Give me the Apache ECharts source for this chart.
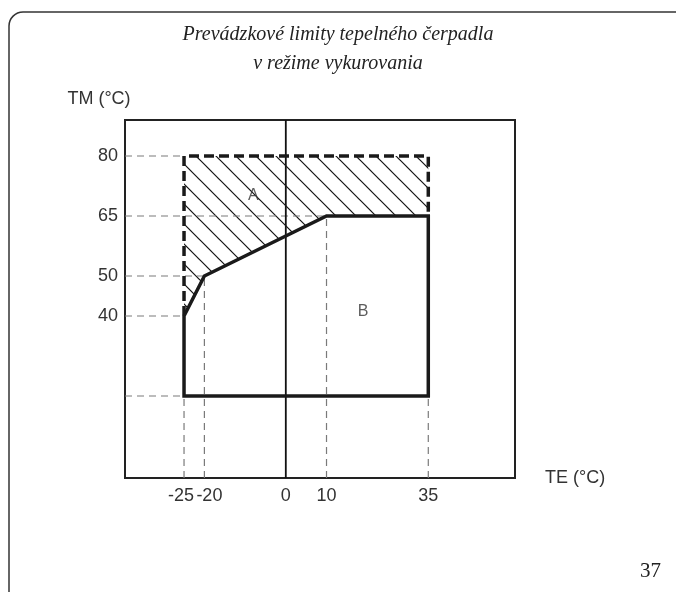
<!DOCTYPE html>
<html>
<head>
<meta charset="utf-8">
<script src="https://cdn.jsdelivr.net/npm/echarts@6/dist/echarts.min.js"></script>
<style>
  html, body { margin: 0; padding: 0; background: #fff; }
  #chart { width: 676px; height: 592px; }
</style>
</head>
<body>
<div id="chart"></div>
<script>
// Tick values on each axis (TE ticks split so close neighbours are both kept)
const teTicks = [-25, 0, 35];
const teTicksInner = [-20, 10];
const tmTicks = [40, 50, 65, 80];

// Operating limit B (solid outline), as TE / TM pairs
const limitTE = [-25, -20, 10, 35, 35, -25, -25];
const limitTM = [40, 50, 65, 65, 20, 20, 40];

// Extended area A (dashed outline on top of limit B)
const extTE = [-25, -25, 35, 35];
const extTM = [40, 80, 80, 65];

// Horizontal guide lines: level and where they end on the outline
const hGuideTM = [80, 65, 50, 40, 20];
const hGuideTE = [-25, 10, -20, -25, -25];

// Vertical guide lines: position and where they end on the outline
const vGuideTE = [-25, -20, 10, 35];
const vGuideTM = [20, 50, 65, 20];

// Zone labels
const zoneNames = ['A', 'B'];
const zoneTE = [-8, 19];
const zoneTM = [70, 41];

const TE_MIN = -39.5, TE_MAX = 56.3;
const TM_MIN = -0.5, TM_MAX = 89;

const zip = (a, b) => a.map((v, i) => [v, b[i]]);

// Diagonal hatch pattern
function hatchPattern() {
  const s = 20;
  const c = document.createElement('canvas');
  c.width = s; c.height = s;
  const g = c.getContext('2d');
  g.strokeStyle = '#111';
  g.lineWidth = 1.2;
  [-s, 0, s].forEach(function (dx) {
    g.beginPath();
    g.moveTo(dx - 2, -2);
    g.lineTo(dx + s + 2, s + 2);
    g.stroke();
  });
  return c;
}
const pattern = { image: hatchPattern(), repeat: 'repeat' };

// Polygon of area A: dashed top path, then back along the upper edge of B
const areaA = zip(extTE, extTM).concat(
  zip(limitTE.slice(0, 4), limitTM.slice(0, 4)).reverse().slice(1, 3)
);

const guideStyle = { color: '#7a7a7a', width: 1.2, type: [7, 5] };
const guideSeries = [];
hGuideTM.forEach(function (tm, i) {
  guideSeries.push({
    type: 'line', data: [[TE_MIN, tm], [hGuideTE[i], tm]],
    symbol: 'none', lineStyle: guideStyle, silent: true, z: 2
  });
});
vGuideTE.forEach(function (te, i) {
  guideSeries.push({
    type: 'line', data: [[te, TM_MIN], [te, vGuideTM[i]]],
    symbol: 'none', lineStyle: guideStyle, silent: true, z: 2
  });
});

const chart = echarts.init(document.getElementById('chart'), null, { renderer: 'canvas' });

const frameStyle = { fill: 'none', stroke: '#333', lineWidth: 1.5 };
const textFont = { fontFamily: 'Liberation Sans', fontSize: 18, color: '#333' };

// -25 and -20 sit close together: nudge them apart
const tickRich = {
  l: Object.assign({ padding: [0, 6, 0, 0] }, textFont),
  r: Object.assign({ padding: [0, 0, 0, 10] }, textFont),
  n: textFont
};
function teFormatter(v) {
  if (v === -25) return '{l|' + v + '}';
  if (v === -20) return '{r|' + v + '}';
  return '{n|' + v + '}';
}

function teAxis(ticks, withName) {
  const ax = {
    type: 'value', min: TE_MIN, max: TE_MAX, position: 'bottom', offset: 0,
    splitLine: { show: false },
    axisLine: { show: false, onZero: false },
    axisTick: { show: false },
    axisLabel: Object.assign({
      customValues: ticks, margin: 9, hideOverlap: false,
      formatter: teFormatter, rich: tickRich
    }, textFont)
  };
  if (withName) {
    ax.name = 'TE (°C)';
    ax.nameLocation = 'end';
    ax.nameGap = 30;
    ax.nameTextStyle = textFont;
  }
  return ax;
}

chart.setOption({
  animation: false,
  backgroundColor: '#fff',
  title: {
    text: 'Prevádzkové limity tepelného čerpadla\nv režime vykurovania',
    left: 'center',
    top: 15,
    textStyle: {
      fontFamily: 'Liberation Serif',
      fontStyle: 'italic',
      fontWeight: 'normal',
      fontSize: 20,
      lineHeight: 29,
      color: '#222'
    }
  },
  grid: {
    left: 125, top: 120, width: 390, height: 358,
    show: true, borderColor: '#222', borderWidth: 2,
    backgroundColor: 'transparent'
  },
  xAxis: [teAxis(teTicks, true), teAxis(teTicksInner, false)],
  yAxis: {
    type: 'value', min: TM_MIN, max: TM_MAX,
    splitLine: { show: false },
    axisLine: { show: false, onZero: false },
    axisTick: { show: false },
    axisLabel: Object.assign({ customValues: tmTicks, margin: 7, hideOverlap: false }, textFont),
    name: 'TM (°C)', nameLocation: 'end', nameGap: 12,
    nameTextStyle: Object.assign({ align: 'center', padding: [0, 52, 0, 0] }, textFont)
  },
  graphic: [
    { type: 'line', shape: { x1: 9, y1: 592, x2: 9, y2: 26 }, style: frameStyle },
    { type: 'arc', shape: { cx: 23, cy: 26, r: 14, startAngle: Math.PI, endAngle: Math.PI * 1.5 }, style: frameStyle },
    { type: 'line', shape: { x1: 23, y1: 12, x2: 676, y2: 12 }, style: frameStyle },
    {
      type: 'text', left: 640, top: 561,
      style: { text: '37', font: '21px "Liberation Serif"', fill: '#222' }
    }
  ],
  series: [
    {
      type: 'custom',
      silent: true,
      z: 1,
      data: [0],
      renderItem: function (params, api) {
        return {
          type: 'polygon',
          shape: { points: areaA.map(function (p) { return api.coord(p); }) },
          style: { fill: pattern, stroke: 'none' }
        };
      }
    }
  ].concat(guideSeries, [
    {
      type: 'line', data: [[0, TM_MIN], [0, TM_MAX]],
      symbol: 'none', silent: true, z: 3,
      lineStyle: { color: '#111', width: 1.8 }
    },
    {
      type: 'line', data: zip(extTE, extTM),
      symbol: 'none', silent: true, z: 4,
      lineStyle: { color: '#1a1a1a', width: 3.5, type: [10, 5], join: 'miter' }
    },
    {
      type: 'line', data: zip(limitTE, limitTM),
      symbol: 'none', silent: true, z: 5,
      lineStyle: { color: '#1a1a1a', width: 3.5, join: 'miter' }
    },
    {
      type: 'scatter', symbolSize: 0, silent: true, z: 6,
      data: zoneNames.map(function (n, i) { return { name: n, value: [zoneTE[i], zoneTM[i]] }; }),
      label: {
        show: true, position: 'inside', formatter: '{b}',
        fontFamily: 'Liberation Sans', fontSize: 16, color: '#333'
      }
    }
  ])
});
</script>
</body>
</html>
